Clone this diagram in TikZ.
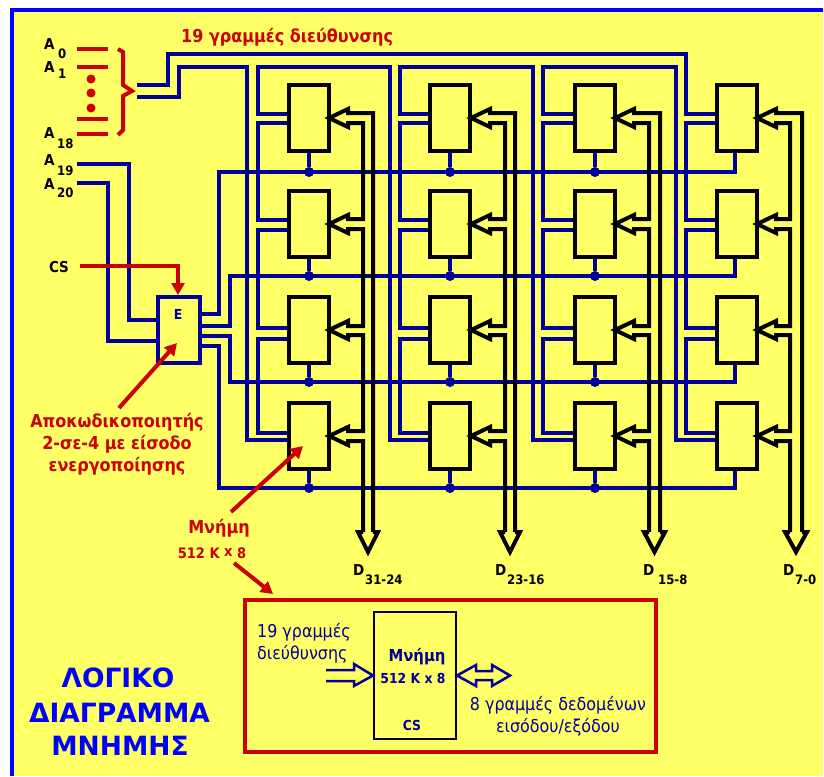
\documentclass[tikz,border=0pt]{standalone}
\usepackage{fontspec}
\setmainfont{DejaVu Sans Condensed}
\newfontfamily\titlefont{DejaVu Sans}
\usetikzlibrary{arrows.meta}
\definecolor{bgy}{HTML}{FFFF66}
\definecolor{wireb}{HTML}{000099}
\definecolor{frameb}{HTML}{0000FF}
\definecolor{redc}{HTML}{CC0000}
\tikzset{
  wire/.style={draw=wireb,line width=3.5pt,line join=miter},
  bus/.style={draw=black,line width=4pt,line join=miter},
  redl/.style={draw=redc,line width=4pt},
  redarrow/.style={draw=redc,line width=4pt,-{Triangle[length=12pt,width=13pt]}},
  chip/.style={draw=black,line width=4pt,fill=bgy,minimum width=40pt,minimum height=66pt,inner sep=0pt},
  joint/.style={circle,fill=wireb,inner sep=0pt,minimum size=10pt},
  lab/.style={inner sep=0pt,font=\bfseries\fontsize{15}{15}\selectfont},
  sublab/.style={inner sep=0pt,font=\bfseries\fontsize{13}{13}\selectfont},
  redtxt/.style={inner sep=0pt,text=redc,font=\bfseries\fontsize{17.8}{17.8}\selectfont},
  bluetxt/.style={inner sep=0pt,text=wireb,font=\fontsize{17.7}{17.7}\selectfont},
  blueb/.style={inner sep=0pt,text=wireb,font=\bfseries\fontsize{13.8}{13.8}\selectfont},
  titletxt/.style={inner sep=0pt,text=frameb,font=\titlefont\bfseries\fontsize{26.5}{26.5}\selectfont},
}
\begin{document}
\begin{tikzpicture}[x=1pt,y=-1pt]
\useasboundingbox (0,0) rectangle (824,776);
\fill[white] (0,0) rectangle (824,776);
\fill[bgy] (12,10) rectangle (823,776);
\draw[frameb,line width=4pt] (12,776) -- (12,10) -- (823,10);
% chips
\foreach \c/\x in {1/309,2/450,3/595,4/736.5}
  \foreach \r/\y in {1/118,2/224,3/330,4/436}
    \node[chip] (c\r\c) at (\x,\y) {};
\node[draw=wireb,line width=4pt,fill=bgy,minimum width=42pt,minimum height=66pt,inner sep=0pt] (dec) at (179,330) {};
% named bus starts
\coordinate (busa) at (137,85);
\coordinate (busb) at (137,97);
\coordinate (ina19) at (77,164);
\coordinate (ina20) at (77,183);
% address wires
\draw[wire] (busa) -- (168,85) -- (168,54) -- (686,54) -- (686,114) -- (c14.west |- 0,114);
\draw[wire] (busb) -- (179,97) -- (179,67) -- (247,67) -- (247,440) -- (c41.west |- 0,440);
\foreach \c/\a/\nb/\nc in {1/258/390/2,2/400/533/3,3/543/676/4}{
  \draw[wire] (c1\c.west |- 0,114) -- (\a,114) -- (\a,67) -- (\nb,67) -- (\nb,440) -- (c4\nc.west |- 0,440);
}
\foreach \c/\a in {1/258,2/400,3/543,4/686}{
  \draw[wire] (c1\c.west |- 0,123) -- (\a,123) -- (\a,220) -- (c2\c.west |- 0,220);
  \draw[wire] (c2\c.west |- 0,230) -- (\a,230) -- (\a,328) -- (c3\c.west |- 0,328);
  \draw[wire] (c3\c.west |- 0,339) -- (\a,339) -- (\a,433) -- (c4\c.west |- 0,433);
}
% decoder inputs
\draw[wire] (ina19) -- (129,164) -- (129,320) -- (dec.west |- 0,320);
\draw[wire] (ina20) -- (108,183) -- (108,341) -- (dec.west |- 0,341);
% decoder outputs / chip selects
\draw[wire] (dec.east |- 0,314) -- (219,314) -- (219,172) -- (735,172) -- (c14.south -| 735,0);
\draw[wire] (dec.east |- 0,326) -- (230,326) -- (230,276) -- (735,276) -- (c24.south -| 735,0);
\draw[wire] (dec.east |- 0,336) -- (230,336) -- (230,382) -- (735,382) -- (c34.south -| 735,0);
\draw[wire] (dec.east |- 0,346) -- (219,346) -- (219,488) -- (735,488) -- (c44.south -| 735,0);
\foreach \c in {1,2,3}
  \foreach \r/\y in {1/172,2/276,3/382,4/488}{
    \node[joint] (j\r\c) at (c\r\c.south |- 0,\y) {};
    \draw[wire] (c\r\c.south) -- (j\r\c);
  }
% data buses
\foreach \c/\i/\o/\h/\tx in {1/363/373/368/329,2/505/515/510/471,3/649/660/654.5/615,4/790/802/796/757}{
  \pgfmathsetmacro{\bx}{\tx+19}
  \coordinate (hd\c) at (\h,552);
  \draw[bus] (\o,532) -- (\o,113) -- (\bx,113) -- (\bx,109) -- (\tx,118) -- (\bx,127) -- (\bx,123) -- (\i,123) -- (\i,219)
     -- (\bx,219) -- (\bx,215) -- (\tx,224) -- (\bx,233) -- (\bx,229) -- (\i,229) -- (\i,326)
     -- (\bx,326) -- (\bx,321) -- (\tx,330) -- (\bx,339) -- (\bx,335) -- (\i,335) -- (\i,431)
     -- (\bx,431) -- (\bx,427) -- (\tx,436) -- (\bx,445) -- (\bx,441) -- (\i,441) -- (\i,532);
  \draw[bus] (\i,532) -- (\i-5,532) -- (hd\c) -- (\o+5,532) -- (\o,532);
}
% A lines
\foreach \y in {49.5,67,119,134}
  \draw[redl] (77,\y) -- (108,\y);
\foreach \y/\n in {79/a,93/b,108/d}
  \node[circle,fill=redc,inner sep=0pt,minimum size=9pt] (rd\n) at (91,\y) {};
\draw[redl] (118,49) -- (123,52) -- (123,85) -- (132,91) -- (123,96) -- (123,130) -- (118,135);
% labels A
\node[lab,anchor=base west] (a0) at (44,49) {A};
\node[sublab,anchor=base west] (a0s) at (58,59) {0};
\node[lab,anchor=base west] (a1) at (44,72) {A};
\node[sublab,anchor=base west] (a1s) at (58,78) {1};
\node[lab,anchor=base west] (a18) at (44,138) {A};
\node[sublab,anchor=base west] (a18s) at (57,148) {18};
\node[lab,anchor=base west] (a19) at (44,165) {A};
\node[sublab,anchor=base west] (a19s) at (57,175) {19};
\node[lab,anchor=base west] (a20) at (44,189) {A};
\node[sublab,anchor=base west] (a20s) at (57,197) {20};
\node[redtxt,anchor=base west] (t19) at (181,43) {19 γραμμές διεύθυνσης};
% CS
\node[lab,anchor=base] (cs) at (59,272) {CS};
\coordinate (csst) at (80,266);
\draw[redarrow] (csst) -- (178,266) -- (dec.north -| 178,0);
\node[blueb,anchor=base] (eE) at (178,319) {E};
% captions
\node[redtxt,anchor=base] (dc1) at (117,427) {Αποκωδικοποιητής};
\node[redtxt,anchor=base] (dc2) at (117,449) {2-σε-4 με είσοδο};
\node[redtxt,anchor=base] (dc3) at (117,471) {ενεργοποίησης};
\coordinate (dcs) at (119,408);
\coordinate (dct) at (177,343);
\draw[redarrow] (dcs) -- (dct);
\node[redtxt,anchor=base] (mn) at (219,533) {Μνήμη};
\node[anchor=base,inner sep=0pt,text=redc,font=\bfseries\fontsize{14.5}{14.5}\selectfont] (mn2) at (212,558) {512 K \raisebox{1.5pt}{x} 8};
\coordinate (mns) at (231,512);
\coordinate (mnt) at (303,446);
\draw[redarrow] (mns) -- (mnt);
\coordinate (mbs) at (234,563);
\draw[redarrow] (mbs) -- (273,594);
% detail box
\node[draw=redc,line width=4pt,minimum width=411pt,minimum height=152pt,inner sep=0pt] (detail) at (450.5,676) {};
\node[draw=black,line width=2pt,fill=bgy,minimum width=82pt,minimum height=127pt,inner sep=0pt] (mem) at (415,675.5) {};
\node[bluetxt,anchor=base west] (d19) at (257,637) {19 γραμμές};
\node[bluetxt,anchor=base west] (d19b) at (257,659) {διεύθυνσης};
\node[blueb,anchor=base,font=\bfseries\fontsize{16.5}{16.5}\selectfont] (dm) at (417,661) {Μνήμη};
\node[blueb,anchor=base] (dm2) at (413,683) {512 K  x 8};
\node[blueb,anchor=base] (dcs2) at (412,730) {CS};
\node[bluetxt,anchor=base] (d8) at (558,710) {8 γραμμές δεδομένων};
\node[bluetxt,anchor=base] (d8b) at (558,732) {εισόδου/εξόδου};
\coordinate (ha1) at (326,670);
\coordinate (ha2) at (326,681);
\draw[wire,line width=2.5pt] (ha1) -- (354,670) -- (354,664) -- (mem.west |- 0,675.5) -- (354,686) -- (354,681) -- (ha2);
\coordinate (hb) at (510,675.5);
\draw[wire,line width=2.5pt] (mem.east |- 0,675.5) -- (476,665) -- (476,671) -- (492,671) -- (492,665) -- (hb) -- (492,686) -- (492,680) -- (476,680) -- (476,686) -- cycle;
% D labels
\foreach \n/\dx/\sx/\t in {a/353/365/31-24,b/495/507/23-16,c/643/658/15-8,d/783/795/7-0}{
  \node[lab,anchor=base west] (dl\n) at (\dx,575) {D};
  \node[sublab,anchor=base west] (ds\n) at (\sx,584) {\t};
}
% title
\node[titletxt,anchor=base] (tt1) at (118,687) {ΛΟΓΙΚΟ};
\node[titletxt,anchor=base] (tt2) at (119.5,722) {ΔΙΑΓΡΑΜΜΑ};
\node[titletxt,anchor=base] (tt3) at (120,755) {ΜΝΗΜΗΣ};
\end{tikzpicture}
\end{document}
